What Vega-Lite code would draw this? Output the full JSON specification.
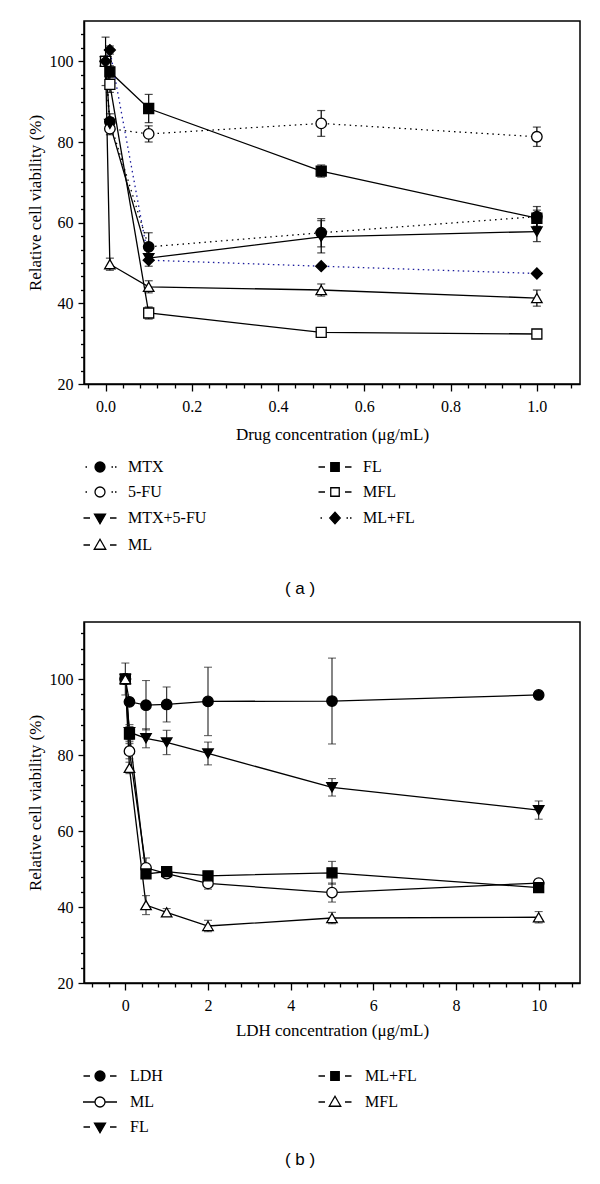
{
  "$schema": "https://vega.github.io/schema/vega-lite/v6.json",
  "background": "white",
  "padding": {"left": 25, "top": 20, "right": 10, "bottom": 5},
  "spacing": 23,
  "resolve": {"scale": {"shape": "independent", "fill": "independent"}},
  "config": {
    "view": {"stroke": "black", "strokeWidth": 1.5},
    "axis": {"grid": false, "domainColor": "black", "domainWidth": 1.5, "tickColor": "black", "tickWidth": 1.3, "labelFont": "Liberation Serif", "labelFontSize": 16, "labelColor": "black", "titleFont": "Liberation Serif", "titleFontSize": 17, "titleFontWeight": "normal", "titleColor": "black", "labelOverlap": false, "labelFlush": false}
  },
  "datasets": {
    "a": [
      {"s": "MTX", "c": 0, "v": 100, "e": 0},
      {"s": "MTX", "c": 0.01, "v": 85, "e": 2},
      {"s": "MTX", "c": 0.1, "v": 54, "e": 3.5},
      {"s": "MTX", "c": 0.5, "v": 57.5, "e": 3.5},
      {"s": "MTX", "c": 1, "v": 61.5, "e": 2.5},
      {"s": "5-FU", "c": 0, "v": 100, "e": 0},
      {"s": "5-FU", "c": 0.01, "v": 83.3, "e": 1.5},
      {"s": "5-FU", "c": 0.1, "v": 82, "e": 2},
      {"s": "5-FU", "c": 0.5, "v": 84.6, "e": 3.2},
      {"s": "5-FU", "c": 1, "v": 81.3, "e": 2.4},
      {"s": "MTX+5-FU", "c": 0, "v": 100, "e": 0},
      {"s": "MTX+5-FU", "c": 0.01, "v": 84.5, "e": 1.5},
      {"s": "MTX+5-FU", "c": 0.1, "v": 51.2, "e": 2},
      {"s": "MTX+5-FU", "c": 0.5, "v": 56.5, "e": 4},
      {"s": "MTX+5-FU", "c": 1, "v": 57.8, "e": 2.5},
      {"s": "ML", "c": 0, "v": 100, "e": 0},
      {"s": "ML", "c": 0.01, "v": 49.7, "e": 1.5},
      {"s": "ML", "c": 0.1, "v": 44.1, "e": 1.5},
      {"s": "ML", "c": 0.5, "v": 43.3, "e": 1.5},
      {"s": "ML", "c": 1, "v": 41.3, "e": 2},
      {"s": "FL", "c": 0, "v": 100, "e": 6},
      {"s": "FL", "c": 0.01, "v": 97.4, "e": 1.5},
      {"s": "FL", "c": 0.1, "v": 88.3, "e": 3.5},
      {"s": "FL", "c": 0.5, "v": 72.8, "e": 1.5},
      {"s": "FL", "c": 1, "v": 61.1, "e": 2},
      {"s": "MFL", "c": 0, "v": 100, "e": 0},
      {"s": "MFL", "c": 0.01, "v": 94.3, "e": 2},
      {"s": "MFL", "c": 0.1, "v": 37.6, "e": 1.5},
      {"s": "MFL", "c": 0.5, "v": 32.8, "e": 1},
      {"s": "MFL", "c": 1, "v": 32.4, "e": 1},
      {"s": "ML+FL", "c": 0, "v": 100, "e": 0},
      {"s": "ML+FL", "c": 0.01, "v": 102.8, "e": 1},
      {"s": "ML+FL", "c": 0.1, "v": 50.7, "e": 0},
      {"s": "ML+FL", "c": 0.5, "v": 49.2, "e": 0},
      {"s": "ML+FL", "c": 1, "v": 47.4, "e": 0}
    ],
    "b": [
      {"g": "LDH", "c": 0, "v": 100, "e": 4.2},
      {"g": "LDH", "c": 0.1, "v": 94, "e": 0},
      {"g": "LDH", "c": 0.5, "v": 93.1, "e": 6.5},
      {"g": "LDH", "c": 1, "v": 93.3, "e": 4.6},
      {"g": "LDH", "c": 2, "v": 94.1, "e": 9},
      {"g": "LDH", "c": 5, "v": 94.2, "e": 11.3},
      {"g": "LDH", "c": 10, "v": 95.8, "e": 0},
      {"g": "ML", "c": 0, "v": 100, "e": 0},
      {"g": "ML", "c": 0.1, "v": 81, "e": 2},
      {"g": "ML", "c": 0.5, "v": 50.3, "e": 2.6},
      {"g": "ML", "c": 1, "v": 48.8, "e": 1},
      {"g": "ML", "c": 2, "v": 46.2, "e": 1.5},
      {"g": "ML", "c": 5, "v": 43.8, "e": 2.5},
      {"g": "ML", "c": 10, "v": 46.3, "e": 1},
      {"g": "FL", "c": 0, "v": 100, "e": 0},
      {"g": "FL", "c": 0.1, "v": 86, "e": 2},
      {"g": "FL", "c": 0.5, "v": 84.4, "e": 2.5},
      {"g": "FL", "c": 1, "v": 83.3, "e": 3.2},
      {"g": "FL", "c": 2, "v": 80.4, "e": 3},
      {"g": "FL", "c": 5, "v": 71.5, "e": 2.3},
      {"g": "FL", "c": 10, "v": 65.5, "e": 2.4},
      {"g": "ML+FL", "c": 0, "v": 100, "e": 0},
      {"g": "ML+FL", "c": 0.1, "v": 85.5, "e": 2},
      {"g": "ML+FL", "c": 0.5, "v": 48.7, "e": 0},
      {"g": "ML+FL", "c": 1, "v": 49.3, "e": 1},
      {"g": "ML+FL", "c": 2, "v": 48.2, "e": 0.8},
      {"g": "ML+FL", "c": 5, "v": 49, "e": 3},
      {"g": "ML+FL", "c": 10, "v": 45.1, "e": 1},
      {"g": "MFL", "c": 0, "v": 100, "e": 0},
      {"g": "MFL", "c": 0.1, "v": 76.6, "e": 1.5},
      {"g": "MFL", "c": 0.5, "v": 40.5, "e": 2.5},
      {"g": "MFL", "c": 1, "v": 38.6, "e": 1},
      {"g": "MFL", "c": 2, "v": 35, "e": 1.5},
      {"g": "MFL", "c": 5, "v": 37.1, "e": 1.5},
      {"g": "MFL", "c": 10, "v": 37.3, "e": 1.5}
    ]
  },
  "vconcat": [
    {
      "width": 496,
      "height": 363,
      "data": {"name": "a"},
      "title": {"text": "( a )", "orient": "bottom", "offset": 28, "dx": -32, "anchor": "middle", "font": "Liberation Sans", "fontSize": 17, "fontWeight": "normal", "color": "black"},
      "encoding": {
        "x": {"field": "c", "type": "quantitative", "title": "Drug concentration (μg/mL)",
          "scale": {"domain": [-0.05, 1.1], "nice": false, "zero": false},
          "axis": {"values": [-0.04, 0, 0.04, 0.08, 0.12, 0.16, 0.2, 0.24, 0.28, 0.32, 0.36, 0.4, 0.44, 0.48, 0.52, 0.56, 0.6, 0.64, 0.68, 0.72, 0.76, 0.8, 0.84, 0.88, 0.92, 0.96, 1, 1.04, 1.08],
            "labelExpr": "abs(datum.value*5 - round(datum.value*5)) < 0.001 ? format(datum.value, '.1f') : ''",
            "tickSize": {"condition": {"test": "abs(datum.value*5 - round(datum.value*5)) < 0.001", "value": 7}, "value": 4},
            "labelPadding": 7, "titlePadding": 12}},
        "y": {"field": "v", "type": "quantitative", "title": "Relative cell viability (%)",
          "scale": {"domain": [20, 110], "nice": false, "zero": false},
          "axis": {"values": [20, 23.333, 26.667, 30, 33.333, 36.667, 40, 43.333, 46.667, 50, 53.333, 56.667, 60, 63.333, 66.667, 70, 73.333, 76.667, 80, 83.333, 86.667, 90, 93.333, 96.667, 100, 103.333, 106.667],
            "labelExpr": "datum.value % 20 == 0 ? format(datum.value, 'd') : ''",
            "tickSize": {"condition": {"test": "datum.value % 20 == 0", "value": 6}, "value": 3.5},
            "labelPadding": 5, "titlePadding": 5}}
      },
      "layer": [
        {
          "transform": [{"filter": "datum.s == 'MTX' || datum.s == '5-FU'"}],
          "mark": {"type": "line", "strokeWidth": 1.3, "color": "black", "strokeDash": [1.5, 4]},
          "encoding": {"detail": {"field": "s"}}
        },
        {
          "transform": [{"filter": "datum.s == 'MTX+5-FU' || datum.s == 'ML' || datum.s == 'FL' || datum.s == 'MFL'"}],
          "mark": {"type": "line", "strokeWidth": 1.3, "color": "black"},
          "encoding": {"detail": {"field": "s"}}
        },
        {
          "transform": [{"filter": "datum.s == 'ML+FL'"}],
          "mark": {"type": "line", "strokeWidth": 1.3, "color": "#1c1c9c", "strokeDash": [1.5, 3.5]},
          "encoding": {"detail": {"field": "s"}}
        },
        {
          "transform": [{"filter": "datum.e > 0"}],
          "mark": {"type": "errorbar", "color": "black", "thickness": 1.2, "ticks": {"size": 8}},
          "encoding": {"yError": {"field": "e"}, "detail": {"field": "s"}}
        },
        {"transform": [{"filter": "datum.s == 'MTX'"}], "mark": {"type": "point", "shape": "circle", "filled": true, "fill": "black", "stroke": "black", "strokeWidth": 1.3, "size": 110, "opacity": 1}},
        {"transform": [{"filter": "datum.s == '5-FU'"}], "mark": {"type": "point", "shape": "circle", "filled": true, "fill": "white", "stroke": "black", "strokeWidth": 1.3, "size": 110, "opacity": 1}},
        {"transform": [{"filter": "datum.s == 'MTX+5-FU'"}], "mark": {"type": "point", "shape": "triangle-down", "filled": true, "fill": "black", "stroke": "black", "strokeWidth": 1.3, "size": 110, "opacity": 1}},
        {"transform": [{"filter": "datum.s == 'ML'"}], "mark": {"type": "point", "shape": "triangle-up", "filled": true, "fill": "white", "stroke": "black", "strokeWidth": 1.3, "size": 110, "opacity": 1}},
        {"transform": [{"filter": "datum.s == 'FL'"}], "mark": {"type": "point", "shape": "square", "filled": true, "fill": "black", "stroke": "black", "strokeWidth": 1.3, "size": 100, "opacity": 1}},
        {"transform": [{"filter": "datum.s == 'MFL'"}], "mark": {"type": "point", "shape": "square", "filled": true, "fill": "white", "stroke": "black", "strokeWidth": 1.3, "size": 100, "opacity": 1}},
        {"transform": [{"filter": "datum.s == 'ML+FL'"}], "mark": {"type": "point", "shape": "diamond", "filled": true, "fill": "black", "stroke": "black", "strokeWidth": 1.3, "size": 120, "opacity": 1}},
        {
          "transform": [{"filter": "datum.v > 1000"}],
          "mark": {"type": "point", "filled": false, "stroke": "black", "color": "black", "strokeWidth": 1.3, "opacity": 1},
          "encoding": {
            "shape": {"field": "s", "type": "nominal",
              "scale": {"domain": ["MTX", "5-FU", "MTX+5-FU", "ML", "FL", "MFL", "ML+FL"],
                "range": [
                  "M1,0A1,1,0,1,1,-1,0A1,1,0,1,1,1,0Z M-2.9,0H-2.6 M2.3,0H2.6 M3,0H3.3",
                  "M1,0A1,1,0,1,1,-1,0A1,1,0,1,1,1,0Z M-2.9,0H-2.6 M2.3,0H2.6 M3,0H3.3",
                  "M-1.1,-0.75H1.1L0,1.15Z M-3.3,0H-2 M2,0H3.3",
                  "M-1.15,0.85H1.15L0,-1.15Z M-3.3,0H-2 M2,0H3.3",
                  "M-0.85,-0.85H0.85V0.85H-0.85Z M-3.3,0H-2 M2,0H3.3",
                  "M-0.85,-0.85H0.85V0.85H-0.85Z M-3.3,0H-2 M2,0H3.3",
                  "M0,-1.15L1.05,0L0,1.15L-1.05,0Z M-2.9,0H-2.6 M2.3,0H2.6 M3,0H3.3"
                ]},
              "legend": {"title": null, "orient": "none", "legendX": 8, "legendY": 438, "columns": 2, "columnPadding": 108, "rowPadding": 9, "labelFont": "Liberation Serif", "labelFontSize": 16, "labelColor": "black", "labelOffset": 20, "symbolSize": 100, "symbolStrokeWidth": 1.3, "padding": 0, "labelLimit": 300}},
            "fill": {"field": "s", "type": "nominal",
              "scale": {"domain": ["MTX", "5-FU", "MTX+5-FU", "ML", "FL", "MFL", "ML+FL"], "range": ["black", "white", "black", "white", "black", "white", "black"]},
              "legend": {"title": null, "orient": "none", "legendX": 8, "legendY": 438, "columns": 2, "columnPadding": 108, "rowPadding": 9, "labelFont": "Liberation Serif", "labelFontSize": 16, "labelColor": "black", "labelOffset": 20, "symbolSize": 100, "symbolStrokeWidth": 1.3, "padding": 0, "labelLimit": 300}}
          }
        }
      ]
    },
    {
      "width": 496,
      "height": 361,
      "data": {"name": "b"},
      "title": {"text": "( b )", "orient": "bottom", "offset": 16, "dx": -32, "anchor": "middle", "font": "Liberation Sans", "fontSize": 17, "fontWeight": "normal", "color": "black"},
      "encoding": {
        "x": {"field": "c", "type": "quantitative", "title": "LDH concentration (μg/mL)",
          "scale": {"domain": [-1, 11], "nice": false, "zero": false},
          "axis": {"values": [-0.8, -0.4, 0, 0.4, 0.8, 1.2, 1.6, 2, 2.4, 2.8, 3.2, 3.6, 4, 4.4, 4.8, 5.2, 5.6, 6, 6.4, 6.8, 7.2, 7.6, 8, 8.4, 8.8, 9.2, 9.6, 10, 10.4, 10.8],
            "labelExpr": "abs(datum.value/2 - round(datum.value/2)) < 0.001 ? format(datum.value, 'd') : ''",
            "tickSize": {"condition": {"test": "abs(datum.value/2 - round(datum.value/2)) < 0.001", "value": 7}, "value": 4},
            "labelPadding": 7, "titlePadding": 9}},
        "y": {"field": "v", "type": "quantitative", "title": "Relative cell viability (%)",
          "scale": {"domain": [20, 115], "nice": false, "zero": false},
          "axis": {"values": [20, 24, 28, 32, 36, 40, 44, 48, 52, 56, 60, 64, 68, 72, 76, 80, 84, 88, 92, 96, 100, 104, 108, 112],
            "labelExpr": "datum.value % 20 == 0 ? format(datum.value, 'd') : ''",
            "tickSize": {"condition": {"test": "datum.value % 20 == 0", "value": 6}, "value": 3.5},
            "labelPadding": 5, "titlePadding": 5}}
      },
      "layer": [
        {
          "mark": {"type": "line", "strokeWidth": 1.3, "color": "black"},
          "encoding": {"detail": {"field": "g"}}
        },
        {
          "transform": [{"filter": "datum.e > 0"}],
          "mark": {"type": "errorbar", "color": "#222222", "thickness": 1.1, "ticks": {"size": 8}},
          "encoding": {"yError": {"field": "e"}, "detail": {"field": "g"}}
        },
        {"transform": [{"filter": "datum.g == 'LDH'"}], "mark": {"type": "point", "shape": "circle", "filled": true, "fill": "black", "stroke": "black", "strokeWidth": 1.3, "size": 110, "opacity": 1}},
        {"transform": [{"filter": "datum.g == 'ML'"}], "mark": {"type": "point", "shape": "circle", "filled": true, "fill": "white", "stroke": "black", "strokeWidth": 1.3, "size": 110, "opacity": 1}},
        {"transform": [{"filter": "datum.g == 'FL'"}], "mark": {"type": "point", "shape": "triangle-down", "filled": true, "fill": "black", "stroke": "black", "strokeWidth": 1.3, "size": 110, "opacity": 1}},
        {"transform": [{"filter": "datum.g == 'ML+FL'"}], "mark": {"type": "point", "shape": "square", "filled": true, "fill": "black", "stroke": "black", "strokeWidth": 1.3, "size": 100, "opacity": 1}},
        {"transform": [{"filter": "datum.g == 'MFL'"}], "mark": {"type": "point", "shape": "triangle-up", "filled": true, "fill": "white", "stroke": "black", "strokeWidth": 1.3, "size": 110, "opacity": 1}},
        {
          "transform": [{"filter": "datum.v > 1000"}],
          "mark": {"type": "point", "filled": false, "stroke": "black", "color": "black", "strokeWidth": 1.3, "opacity": 1},
          "encoding": {
            "shape": {"field": "g", "type": "nominal",
              "scale": {"domain": ["LDH", "ML", "FL", "ML+FL", "MFL"],
                "range": [
                  "M1,0A1,1,0,1,1,-1,0A1,1,0,1,1,1,0Z M-3.3,0H-2 M2,0H3.3",
                  "M1,0A1,1,0,1,1,-1,0A1,1,0,1,1,1,0Z M-3.4,0H-1 M1,0H3.4",
                  "M-1.1,-0.75H1.1L0,1.15Z M-3.3,0H-2 M2,0H3.3",
                  "M-0.85,-0.85H0.85V0.85H-0.85Z M-3.3,0H-2 M2,0H3.3",
                  "M-1.15,0.85H1.15L0,-1.15Z M-3.3,0H-2 M2,0H3.3"
                ]},
              "legend": {"title": null, "orient": "none", "legendX": 8, "legendY": 446, "columns": 2, "columnPadding": 152, "rowPadding": 9, "labelFont": "Liberation Serif", "labelFontSize": 16, "labelColor": "black", "labelOffset": 22, "symbolSize": 100, "symbolStrokeWidth": 1.3, "padding": 0, "labelLimit": 300}},
            "fill": {"field": "g", "type": "nominal",
              "scale": {"domain": ["LDH", "ML", "FL", "ML+FL", "MFL"], "range": ["black", "white", "black", "black", "white"]},
              "legend": {"title": null, "orient": "none", "legendX": 8, "legendY": 446, "columns": 2, "columnPadding": 152, "rowPadding": 9, "labelFont": "Liberation Serif", "labelFontSize": 16, "labelColor": "black", "labelOffset": 22, "symbolSize": 100, "symbolStrokeWidth": 1.3, "padding": 0, "labelLimit": 300}}
          }
        }
      ]
    }
  ]
}
